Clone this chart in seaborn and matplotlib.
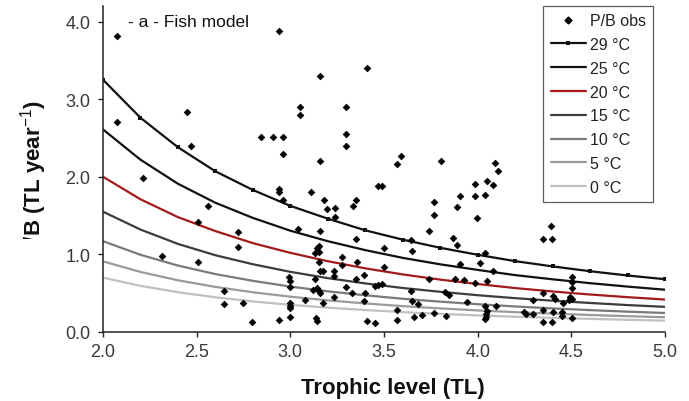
import matplotlib
matplotlib.use("Agg")
import matplotlib.pyplot as plt
from matplotlib.transforms import Bbox, TransformedBbox
from matplotlib.lines import Line2D
import seaborn as sns
import pandas as pd

# Observed production/biomass ratios by trophic level
obs_tl = [2.073, 2.073, 2.45, 2.47, 2.215, 2.941, 3.159, 3.411, 3.053, 3.053,
          3.297, 2.842, 2.906, 2.961, 3.297, 3.297, 2.961, 3.159, 3.589, 3.568,
          3.806, 4.091, 4.11, 3.47, 3.49, 3.769, 3.769, 3.906, 3.888, 3.988,
          3.988, 4.052, 4.081, 4.041, 3.998, 3.742, 3.643, 3.502, 3.648, 3.870,
          3.888, 4.011, 4.041, 3.906, 4.081, 3.502, 3.742, 3.879, 3.927, 3.986,
          4.052, 3.491, 3.643, 3.824, 3.849, 3.648, 3.683, 3.942, 4.039, 4.096,
          3.568, 3.568, 3.66, 3.701, 3.769, 3.83, 4.052, 4.045, 4.045, 4.041,
          4.248, 2.941, 2.941, 2.959, 3.109, 3.18, 3.198, 3.239, 3.239, 3.333,
          3.351, 3.043, 3.159, 3.351, 3.153, 3.144, 3.132, 3.153, 3.274, 3.274,
          3.354, 3.153, 3.159, 3.176, 3.233, 3.233, 2.995, 2.998, 2.998, 3.132,
          3.351, 3.393, 3.297, 3.144, 3.153, 3.12, 3.159, 3.47, 3.452, 3.329,
          3.399, 3.233, 3.08, 3.176, 3.393, 2.998, 2.998, 2.998, 2.746, 2.794,
          2.941, 3.137, 3.141, 3.408, 3.452, 2.562, 2.509, 2.722, 2.722, 2.317,
          2.509, 2.648, 2.648, 4.392, 4.351, 4.395, 4.502, 4.502, 4.502, 4.351,
          4.401, 4.413, 4.493, 4.502, 4.489, 4.458, 4.297, 4.351, 4.401, 4.449,
          4.449, 4.258, 4.294, 4.351, 4.395, 4.502, 2.998]
obs_pb = [3.81, 2.70, 2.84, 2.39, 1.99, 3.88, 3.30, 3.40, 2.905, 2.79,
          2.905, 2.506, 2.506, 2.506, 2.55, 2.39, 2.295, 2.197, 2.265, 2.166,
          2.20, 2.18, 2.07, 1.883, 1.883, 1.677, 1.51, 1.75, 1.61, 1.91,
          1.75, 1.95, 1.90, 1.77, 1.47, 1.30, 1.19, 1.085, 1.046, 1.206,
          1.12, 0.888, 1.02, 0.875, 0.79, 0.833, 0.682, 0.682, 0.665, 0.626,
          0.652, 0.618, 0.524, 0.51, 0.476, 0.395, 0.36, 0.382, 0.33, 0.33,
          0.283, 0.154, 0.197, 0.223, 0.24, 0.206, 0.266, 0.232, 0.197, 0.171,
          0.254, 1.84, 1.80, 1.70, 1.81, 1.70, 1.58, 1.596, 1.48, 1.625,
          1.70, 1.326, 1.296, 1.197, 1.11, 1.08, 1.017, 1.026, 0.961, 0.866,
          0.897, 0.897, 0.789, 0.78, 0.789, 0.725, 0.704, 0.652, 0.575, 0.682,
          0.682, 0.738, 0.575, 0.566, 0.53, 0.54, 0.50, 0.61, 0.596, 0.498,
          0.50, 0.446, 0.412, 0.369, 0.395, 0.369, 0.309, 0.197, 0.369, 0.129,
          0.158, 0.18, 0.14, 0.145, 0.116, 1.625, 1.42, 1.29, 1.098, 0.974,
          0.897, 0.524, 0.36, 1.36, 1.197, 1.197, 0.704, 0.64, 0.566, 0.50,
          0.467, 0.425, 0.455, 0.425, 0.412, 0.369, 0.412, 0.287, 0.261, 0.261,
          0.21, 0.232, 0.232, 0.133, 0.133, 0.176, 0.34]

# Fish model P/B curves at each water temperature
model_tl = [2.0, 2.2, 2.4, 2.6, 2.8, 3.0, 3.2, 3.4, 3.6, 3.8, 4.0, 4.2, 4.4, 4.6, 4.8, 5.0]
pb_29 = [3.25, 2.76, 2.38, 2.07, 1.83, 1.625, 1.46, 1.31, 1.19, 1.085, 0.995, 0.913, 0.845, 0.783, 0.728, 0.68]
pb_25 = [2.61, 2.22, 1.91, 1.665, 1.47, 1.305, 1.17, 1.055, 0.955, 0.872, 0.80, 0.733, 0.679, 0.629, 0.585, 0.545]
pb_20 = [2.0, 1.71, 1.48, 1.30, 1.145, 1.02, 0.912, 0.82, 0.742, 0.675, 0.618, 0.566, 0.522, 0.483, 0.449, 0.418]
pb_15 = [1.55, 1.32, 1.135, 0.989, 0.873, 0.775, 0.694, 0.626, 0.567, 0.518, 0.474, 0.436, 0.403, 0.374, 0.347, 0.324]
pb_10 = [1.17, 0.995, 0.856, 0.746, 0.659, 0.585, 0.524, 0.473, 0.428, 0.391, 0.358, 0.329, 0.304, 0.282, 0.262, 0.245]
pb_5 = [0.91, 0.774, 0.666, 0.581, 0.512, 0.455, 0.408, 0.368, 0.333, 0.304, 0.278, 0.256, 0.237, 0.219, 0.204, 0.19]
pb_0 = [0.70, 0.595, 0.512, 0.447, 0.394, 0.35, 0.314, 0.283, 0.256, 0.234, 0.214, 0.197, 0.182, 0.169, 0.157, 0.146]

temp_labels = ["29 °C", "25 °C", "20 °C", "15 °C", "10 °C", "5 °C", "0 °C"]
temp_series = [pb_29, pb_25, pb_20, pb_15, pb_10, pb_5, pb_0]
temp_colors = ["#111111", "#111111", "#a31a1a", "#3c3c3c", "#7a7a7a", "#9a9a9a", "#c0c0c0"]

sns.set_theme(style="ticks")
plt.rcParams["font.family"] = ["Liberation Sans", "DejaVu Sans"]
plt.rcParams["mathtext.fontset"] = "custom"
plt.rcParams["mathtext.rm"] = "Liberation Sans"
plt.rcParams["mathtext.bf"] = "Liberation Sans:bold"

fig = plt.figure(figsize=(6.89, 4.02), dpi=100)
ax = fig.add_axes([103 / 689, 69 / 402, 562 / 689, 326 / 402])

obs = pd.DataFrame({"TL": obs_tl, "PB": obs_pb})
sns.scatterplot(data=obs, x="TL", y="PB", ax=ax, marker="D", s=11,
                color="black", edgecolor="black", linewidth=0.6, zorder=3,
                legend=False)

handles = [Line2D([], [], ls="none", marker="D", ms=3.5, color="black")]
for lab, vals, col in zip(temp_labels, temp_series, temp_colors):
    curve = pd.DataFrame({"TL": model_tl, "PB": vals})
    with_marker = lab == "29 °C"
    sns.lineplot(data=curve, x="TL", y="PB", ax=ax, color=col, lw=1.6,
                 marker="s" if with_marker else None, ms=3.5 if with_marker else 0,
                 markeredgewidth=0, legend=False, zorder=2)
    handles.append(Line2D([], [], color=col, lw=1.6,
                          marker="s" if with_marker else None, ms=3.5,
                          markeredgewidth=0))

leg = ax.legend(handles, ["P/B obs"] + temp_labels, loc="upper right",
                bbox_to_anchor=(653 / 689, 395 / 402), bbox_transform=fig.transFigure,
                fontsize=11.5, frameon=True, fancybox=False, handlelength=2.2,
                handletextpad=0.25, labelspacing=0.55, borderpad=0.45,
                borderaxespad=0, markerscale=1.0, labelcolor="#222222")
leg.get_frame().set_edgecolor("#333333")
leg.get_frame().set_linewidth(0.9)
for line in leg.get_lines()[1:2]:
    line.set_markevery([1])

ax.set_xlim(2.0, 5.0)
ax.set_ylim(0.0, 4.2)
ax.set_xticks([2.0, 2.5, 3.0, 3.5, 4.0, 4.5, 5.0])
ax.set_yticks([0.0, 1.0, 2.0, 3.0, 4.0])
ax.set_xticklabels(["2.0", "2.5", "3.0", "3.5", "4.0", "4.5", "5.0"])
ax.set_yticklabels(["0.0", "1.0", "2.0", "3.0", "4.0"])
ax.tick_params(axis="both", direction="out", length=3.5, width=1.0,
               labelsize=13, labelcolor="#3a3a3a", color="#222222")
ax.tick_params(axis="y", pad=5.5)
ax.tick_params(axis="x", pad=4.5)
ax.set_xlabel("")
ax.set_ylabel("")
for side in ("top", "right"):
    ax.spines[side].set_visible(False)
for side in ("left", "bottom"):
    ax.spines[side].set_linewidth(1.1)
    ax.spines[side].set_color("#222222")

ax.text(2.133, 3.94, "- a - Fish model", fontsize=12.5, color="#111111",
        va="baseline", ha="left")

fig.text(393 / 689, 8 / 402, "Trophic level (TL)", fontsize=16,
         fontweight="bold", ha="center", va="baseline", color="#111111")

# y-axis title, trimmed at the lower edge of the panel strip
ylab = fig.text(34 / 689, 1 - 100 / 402, "P/B (TL year$^{-1}$)", fontsize=16,
                fontweight="bold", rotation=90, ha="center", va="top",
                color="#111111")
ylab.set_clip_box(TransformedBbox(Bbox([[0, 162 / 402], [1, 1]]), fig.transFigure))
ylab.set_clip_on(True)

fig.savefig("out.png", dpi=100)
